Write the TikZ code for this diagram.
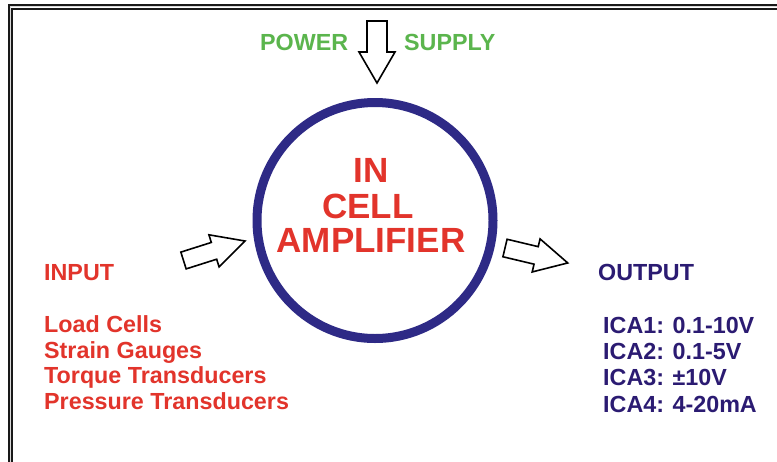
\documentclass[tikz,border=0pt]{standalone}
\usepackage{fontspec}
\setmainfont{Liberation Sans}
\definecolor{txtred}{RGB}{226,52,43}
\definecolor{txtgreen}{RGB}{91,181,77}
\definecolor{circnavy}{RGB}{46,42,134}
\definecolor{outnavy}{RGB}{43,27,114}
\tikzset{
  lbl/.style={inner sep=0pt, font=\fontsize{23.3}{26}\selectfont\bfseries},
  bigl/.style={inner sep=0pt, font=\fontsize{35}{38}\selectfont\bfseries, text=txtred},
  blk/.style={draw=black, line width=1.6pt, fill=white, line join=miter},
}
\begin{document}
\begin{tikzpicture}[x=1pt,y=-1pt]
\useasboundingbox (0,0) rectangle (777,461);
\clip (0,0) rectangle (777,461);
\fill[white] (0,0) rectangle (777,461);
% frame
\draw[line width=1.8pt, black!90] (9,4.7) rectangle (790,480);
\draw[line width=1.6pt, black!15] (10.6,6.6) rectangle (790,480);
\draw[line width=2.2pt, black!90] (12.3,9) rectangle (790,480);
% circle
\node[circle, draw=circnavy, line width=9pt, minimum size=236pt, inner sep=0pt] (amp) at (375,220.5) {};
\node[bigl, anchor=base] (tin) at (371,182) {IN};
\node[bigl, anchor=base] (tcell) at (368,218) {CELL};
\node[bigl, anchor=base] (tamp) at (371,252) {AMPLIFIER};
% power supply
\node[lbl, text=txtgreen, anchor=base west] (pw) at (260,50) {POWER};
\node[lbl, text=txtgreen, anchor=base west] (sp) at (404,50) {SUPPLY};
% arrows
\draw[blk, shift={(377,21)}, rotate=-90] (0,10) -- (31,10) -- (31,18) -- (62,0) -- (31,-18) -- (31,-10) -- (0,-10) -- cycle;
\draw[blk, shift={(183.5,260.5)}, rotate=17.6] (0,8.8) -- (32,8.8) -- (32,16.8) -- (64.5,0) -- (32,-16.8) -- (32,-8.8) -- (0,-8.8) -- cycle;
\draw[blk, shift={(505,248)}, rotate=-13.4] (0,9) -- (32,9) -- (32,17) -- (64.5,0) -- (32,-17) -- (32,-9) -- (0,-9) -- cycle;
% input
\node[lbl, text=txtred, anchor=base west] (inp) at (44,280) {INPUT};
\node[lbl, text=txtred, anchor=base west] (i1) at (44,332) {Load Cells};
\node[lbl, text=txtred, anchor=base west] (i2) at (44,358) {Strain Gauges};
\node[lbl, text=txtred, anchor=base west] (i3) at (44,383.5) {Torque Transducers};
\node[lbl, text=txtred, anchor=base west] (i4) at (44,409) {Pressure Transducers};
% output
\node[lbl, text=outnavy, anchor=base west] (outp) at (598,280) {OUTPUT};
\node[lbl, text=outnavy, anchor=base west] (o1) at (603,333) {ICA1: 0.1-10V};
\node[lbl, text=outnavy, anchor=base west] (o2) at (603,359.5) {ICA2: 0.1-5V};
\node[lbl, text=outnavy, anchor=base west] (o3) at (603,385.5) {ICA3: ±10V};
\node[lbl, text=outnavy, anchor=base west] (o4) at (603,412) {ICA4: 4-20mA};
\end{tikzpicture}
\end{document}
